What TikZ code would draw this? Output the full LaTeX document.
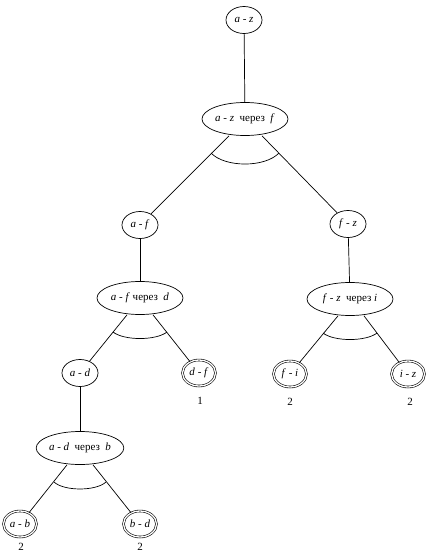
\documentclass[tikz,border=0pt]{standalone}
\usepackage{fontspec}
\setmainfont{Liberation Serif}
\usetikzlibrary{shapes.geometric,calc}
\begin{document}
\begin{tikzpicture}[x=1pt,y=-1pt,
  every node/.style={font=\fontsize{11}{13}\selectfont},
  sm/.style={draw, ellipse, inner sep=0pt, minimum width=36pt, minimum height=27pt, line width=0.7pt},
  big/.style={draw, ellipse, inner sep=0pt, minimum width=86pt, minimum height=33pt, line width=0.7pt},
  leaf/.style={draw, ellipse, inner sep=0pt, double, double distance=1.3pt, line width=0.6pt, minimum width=33pt, minimum height=26pt},
  edge/.style={line width=0.7pt},
  cost/.style={inner sep=0pt}]
\useasboundingbox (0,0) rectangle (429,554);
% nodes
\node[sm] (az) at (244,20) {\textit{a} - \textit{z}};
\node[big] (azf) at (245,119) {\textit{a} - \textit{z}\ \ через\ \ \textit{f}};
\node[sm] (af) at (140,225) {\textit{a} - \textit{f}};
\node[big] (afd) at (140,298) {\textit{a} - \textit{f} через\ \ \textit{d}};
\node[sm] (fz) at (348,224) {\textit{f} - \textit{z}};
\node[big] (fzi) at (350,299) {\textit{f} - \textit{z}\ \ через \textit{i}};
\node[sm] (ad) at (80,373) {\textit{a} - \textit{d}};
\node[leaf] (df) at (199,373) {\textit{d} - \textit{f}};
\node[leaf] (fi) at (290,374) {\textit{f} - \textit{i}};
\node[leaf] (iz) at (408,374) {\textit{i} - \textit{z}};
\node[big] (adb) at (80,448) {\textit{a} - \textit{d}\ \ через\ \ \textit{b}};
\node[leaf] (ab) at (20,524) {\textit{a} - \textit{b}};
\node[leaf] (bd) at (140,524) {\textit{b} - \textit{d}};
% costs
\node[cost] (cdf) at (200,401) {1};
\node[cost] (cfi) at (290,402) {2};
\node[cost] (ciz) at (410,402) {2};
\node[cost] (cab) at (21,547) {2};
\node[cost] (cbd) at (140,547) {2};
% edges
\draw[edge] (az) -- (azf);
\draw[edge] ([xshift=-16pt]azf.south) -- (af);
\draw[edge] ([xshift=17pt]azf.south) -- (fz);
\draw[edge] ($(azf)+(-34,34)$) .. controls ($(azf)+(-20,48.7)$) and ($(azf)+(20,48.7)$) .. ($(azf)+(34,34)$);
\draw[edge] (af) -- (afd);
\draw[edge] ([xshift=-13pt]afd.south) -- (ad);
\draw[edge] ([xshift=13pt]afd.south) -- (df);
\draw[edge] ($(afd)+(-27,34)$) .. controls ($(afd)+(-16,42.7)$) and ($(afd)+(16,42.7)$) .. ($(afd)+(27,34)$);
\draw[edge] (fz) -- (fzi);
\draw[edge] ([xshift=-12pt]fzi.south) -- (fi);
\draw[edge] ([xshift=14pt]fzi.south) -- (iz);
\draw[edge] ($(fzi)+(-27,34)$) .. controls ($(fzi)+(-16,42.7)$) and ($(fzi)+(16,42.7)$) .. ($(fzi)+(27,34)$);
\draw[edge] (ad) -- (adb);
\draw[edge] ([xshift=-13pt]adb.south) -- (ab);
\draw[edge] ([xshift=13pt]adb.south) -- (bd);
\draw[edge] ($(adb)+(-26,34)$) .. controls ($(adb)+(-16,43.3)$) and ($(adb)+(16,43.3)$) .. ($(adb)+(26,34)$);
\end{tikzpicture}
\end{document}
